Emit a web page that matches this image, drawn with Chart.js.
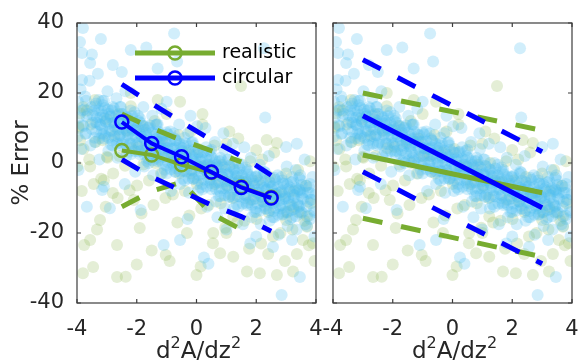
<!DOCTYPE html>
<html>
<head>
<meta charset="utf-8">
<script src="https://cdn.jsdelivr.net/npm/chart.js@4.4.1/dist/chart.umd.min.js"></script>
<style>
  body { margin: 0; background: #fff; }
  #wrap { position: relative; width: 579px; height: 362px; }
  canvas { position: absolute; top: 0; }
  #left { left: 0; }
  #right { left: 318px; }
</style>
</head>
<body>
<div id="wrap">
  <canvas id="left" width="330" height="362"></canvas>
  <canvas id="right" width="261" height="362"></canvas>
</div>
<script>
// axes
const xTicks = [-4, -2, 0, 2, 4];
const yTicks = [-40, -20, 0, 20, 40];
const yTitle = '% Error';
const xTitleParts = [['d', 0], ['2', 1], ['A/dz', 0], ['2', 1]];
const legendLabels = ['realistic', 'circular'];

// left panel: binned means +/- spread
const binCenters = [-2.5, -1.5, -0.5, 0.5, 1.5, 2.5];
const circularMean = [11.7, 5.6, 1.8, -2.6, -7, -10];
const circularUpper = [22.5, 17, 11.7, 6.6, 2, -3.5];
const circularLower = [1, -4, -8, -12, -15.3, -19.5];
const realisticMean = [3.6, 2.3, -0.5, -2.7, -6.8, -9.8];
const realisticBins = [-2.5, -1.5, -0.5, 0.5, 1.5];
const realisticUpper = [14, 10, 6.5, 3.5, 0.3];
const realisticLower = [-12.5, -8, -5.5, -14.5, -19];

// right panel: linear fits +/- bands
const fitX = [-3, 3];
const circularFit = [13.5, -12.8];
const circularFitUpper = [29.5, 3.2];
const circularFitLower = [-2.5, -28.8];
const realisticFit = [2.3, -8.5];
const realisticFitUpper = [20, 9.3];
const realisticFitLower = [-15.8, -26.8];

// scatter clouds (same samples in both panels)
const blueCloud = [
  [-3.85,4],[-3.98,7.5],[-3.78,10.5],[-3.94,13],[-3.82,15],[-3.97,17.5],[-3.88,21],
  [-3.55,5],[-3.7,8.5],[-3.48,11.5],[-3.64,14],[-3.52,16],[-3.73,19],[-3.58,23.5],
  [-3.25,1],[-3.4,6],[-3.18,8.5],[-3.34,11.5],[-3.22,13],[-3.43,15],[-3.28,18],
  [-2.95,3.5],[-3.1,7],[-2.88,9.5],[-3.04,12],[-2.92,14],[-3.13,16.5],[-2.98,20.5],
  [-2.65,1.5],[-2.8,5],[-2.58,8],[-2.74,10.5],[-2.62,12.5],[-2.83,15],[-2.68,18.5],
  [-2.35,2],[-2.5,5.5],[-2.28,8.5],[-2.44,11],[-2.32,13],[-2.53,16],[-2.38,20.5],
  [-2.05,-2.5],[-2.2,2.5],[-1.98,5],[-2.14,8],[-2.02,9.5],[-2.23,11.5],[-2.08,14.5],
  [-1.75,-1],[-1.9,2.5],[-1.68,5],[-1.84,7.5],[-1.72,9.5],[-1.93,12],[-1.78,16],
  [-1.45,-3.5],[-1.6,0],[-1.38,3],[-1.54,5.5],[-1.42,7.5],[-1.63,10],[-1.48,13.5],
  [-1.15,-3],[-1.3,0.5],[-1.08,3.5],[-1.24,6],[-1.12,8],[-1.33,11],[-1.18,15.5],
  [-0.85,-8],[-1.0,-3],[-0.78,-0.5],[-0.94,2.5],[-0.82,4],[-1.03,6],[-0.88,9],
  [-0.55,-6],[-0.7,-2.5],[-0.48,0],[-0.64,2.5],[-0.52,4.5],[-0.73,7],[-0.58,11],
  [-0.25,-8.5],[-0.4,-5],[-0.18,-2],[-0.34,0.5],[-0.22,2.5],[-0.43,5],[-0.28,8.5],
  [0.05,-8],[-0.1,-4.5],[0.12,-1.5],[-0.04,1],[0.08,3],[-0.13,6],[0.02,10.5],
  [0.35,-12.5],[0.2,-7.5],[0.42,-5],[0.26,-2],[0.38,-0.5],[0.17,1.5],[0.32,4.5],
  [0.65,-11],[0.5,-7.5],[0.72,-5],[0.56,-2.5],[0.68,-0.5],[0.47,2],[0.62,6],
  [0.95,-13],[0.8,-9.5],[1.02,-6.5],[0.86,-4],[0.98,-2],[0.77,0.5],[0.92,4],
  [1.25,-13],[1.1,-9.5],[1.32,-6.5],[1.16,-4],[1.28,-2],[1.07,1],[1.22,5.5],
  [1.55,-17.5],[1.4,-12.5],[1.62,-10],[1.46,-7],[1.58,-5.5],[1.37,-3.5],[1.52,-0.5],
  [1.85,-15.5],[1.7,-12],[1.92,-9.5],[1.76,-7],[1.88,-5],[1.67,-2.5],[1.82,1.5],
  [2.15,-17.5],[2.0,-14],[2.22,-11],[2.06,-8.5],[2.18,-6.5],[1.97,-4],[2.12,-0.5],
  [2.45,-16.5],[2.3,-13],[2.52,-10],[2.36,-7.5],[2.48,-5.5],[2.27,-2.5],[2.42,2],
  [2.75,-20.5],[2.6,-15.5],[2.82,-13],[2.66,-10],[2.78,-8.5],[2.57,-6.5],[2.72,-3.5],
  [3.05,-18],[2.9,-14.5],[3.12,-12],[2.96,-9.5],[3.08,-7.5],[2.87,-5],[3.02,-1],
  [3.35,-19],[3.2,-15.5],[3.42,-12.5],[3.26,-10],[3.38,-8],[3.17,-5.5],[3.32,-2],
  [3.65,-17.5],[3.5,-14],[3.72,-11],[3.56,-8.5],[3.68,-6.5],[3.47,-3.5],[3.62,1],
  [3.95,-21],[3.8,-16],[3.92,-13.5],[3.86,-10.5],[3.98,-9],[3.77,-7],[3.88,-4],
  [-3.72,8.3],[-3.81,10.8],[-3.68,13.3],[-3.77,15.3],[-3.7,17.8],
  [-3.42,7.2],[-3.51,9.7],[-3.38,11.7],[-3.47,13.7],[-3.4,16.2],
  [-3.12,8.3],[-3.21,10.8],[-3.08,12.8],[-3.17,14.8],[-3.1,17.8],
  [-2.82,6.5],[-2.91,9],[-2.78,11.5],[-2.87,13.5],[-2.8,16],
  [-2.52,5],[-2.61,7.5],[-2.48,9.5],[-2.57,11.5],[-2.5,14],
  [-2.22,5.5],[-2.31,8],[-2.18,10],[-2.27,12],[-2.2,15],
  [-1.92,3.3],[-2.01,5.8],[-1.88,8.3],[-1.97,10.3],[-1.9,12.8],
  [-1.62,1.2],[-1.71,3.7],[-1.58,5.7],[-1.67,7.7],[-1.6,10.2],
  [-1.32,1.5],[-1.41,4],[-1.28,6],[-1.37,8],[-1.3,11],
  [-1.02,-0.7],[-1.11,1.8],[-0.98,4.3],[-1.07,6.3],[-1,8.8],
  [-0.72,-2.5],[-0.81,0],[-0.68,2],[-0.77,4],[-0.7,6.5],
  [-0.42,-2.3],[-0.51,0.2],[-0.38,2.2],[-0.47,4.2],[-0.4,7.2],
  [-0.12,-4.5],[-0.21,-2],[-0.08,0.5],[-0.17,2.5],[-0.1,5],
  [0.18,-6],[0.09,-3.5],[0.22,-1.5],[0.13,0.5],[0.2,3],
  [0.48,-5.7],[0.39,-3.2],[0.52,-1.2],[0.43,0.8],[0.5,3.8],
  [0.78,-8],[0.69,-5.5],[0.82,-3],[0.73,-1],[0.8,1.5],
  [1.08,-9.8],[0.99,-7.3],[1.12,-5.3],[1.03,-3.3],[1.1,-0.8],
  [1.38,-9.5],[1.29,-7],[1.42,-5],[1.33,-3],[1.4,0],
  [1.68,-11.5],[1.59,-9],[1.72,-6.5],[1.63,-4.5],[1.7,-2],
  [1.98,-13],[1.89,-10.5],[2.02,-8.5],[1.93,-6.5],[2,-4],
  [2.28,-12.3],[2.19,-9.8],[2.32,-7.8],[2.23,-5.8],[2.3,-2.8],
  [2.58,-13.7],[2.49,-11.2],[2.62,-8.7],[2.53,-6.7],[2.6,-4.2],
  [2.88,-14.8],[2.79,-12.3],[2.92,-10.3],[2.83,-8.3],[2.9,-5.8],
  [3.18,-13.5],[3.09,-11],[3.22,-9],[3.13,-7],[3.2,-4],
  [3.48,-14.5],[3.39,-12],[3.52,-9.5],[3.43,-7.5],[3.5,-5],
  [3.78,-15],[3.69,-12.5],[3.82,-10.5],[3.73,-8.5],[3.8,-6],
  [-3.26,7],[-3.35,9],[-3.23,11],[-3.33,13],[-3.28,15],[-3.36,17],
  [-3.06,7.7],[-3.15,9.7],[-3.03,11.7],[-3.13,13.7],[-3.08,15.7],[-3.16,17.7],
  [-2.86,5.2],[-2.95,7.2],[-2.83,9.2],[-2.93,11.2],[-2.88,13.2],[-2.96,15.2],
  [-2.66,5.6],[-2.75,7.6],[-2.63,9.6],[-2.73,11.6],[-2.68,13.6],[-2.76,15.6],
  [-2.46,6],[-2.55,8],[-2.43,10],[-2.53,12],[-2.48,14],[-2.56,16],
  [-2.26,3.2],[-2.35,5.2],[-2.23,7.2],[-2.33,9.2],[-2.28,11.2],[-2.36,13.2],
  [-2.06,3.4],[-2.15,5.4],[-2.03,7.4],[-2.13,9.4],[-2.08,11.4],[-2.16,13.4],
  [-1.86,3.5],[-1.95,5.5],[-1.83,7.5],[-1.93,9.5],[-1.88,11.5],[-1.96,13.5],
  [-1.66,0.6],[-1.75,2.6],[-1.63,4.6],[-1.73,6.6],[-1.68,8.6],[-1.76,10.6],
  [-1.46,0.7],[-1.55,2.7],[-1.43,4.7],[-1.53,6.7],[-1.48,8.7],[-1.56,10.7],
  [-1.26,0.9],[-1.35,2.9],[-1.23,4.9],[-1.33,6.9],[-1.28,8.9],[-1.36,10.9],
  [-1.06,-1.9],[-1.15,0.1],[-1.03,2.1],[-1.13,4.1],[-1.08,6.1],[-1.16,8.1],
  [-0.86,-1.8],[-0.95,0.2],[-0.83,2.2],[-0.93,4.2],[-0.88,6.2],[-0.96,8.2],
  [-0.66,-1.6],[-0.75,0.4],[-0.63,2.4],[-0.73,4.4],[-0.68,6.4],[-0.76,8.4],
  [-0.46,-4.5],[-0.55,-2.5],[-0.43,-0.5],[-0.53,1.5],[-0.48,3.5],[-0.56,5.5],
  [-0.26,-4.4],[-0.35,-2.4],[-0.23,-0.4],[-0.33,1.6],[-0.28,3.6],[-0.36,5.6],
  [-0.06,-4.2],[-0.15,-2.2],[-0.03,-0.2],[-0.13,1.8],[-0.08,3.8],[-0.16,5.8],
  [0.14,-7],[0.05,-5],[0.17,-3],[0.07,-1],[0.12,1],[0.04,3],
  [0.34,-6.8],[0.25,-4.8],[0.37,-2.8],[0.27,-0.8],[0.32,1.2],[0.24,3.2],
  [0.54,-6.6],[0.45,-4.6],[0.57,-2.6],[0.47,-0.6],[0.52,1.4],[0.44,3.4],
  [0.74,-9.4],[0.65,-7.4],[0.77,-5.4],[0.67,-3.4],[0.72,-1.4],[0.64,0.6],
  [0.94,-9.2],[0.85,-7.2],[0.97,-5.2],[0.87,-3.2],[0.92,-1.2],[0.84,0.8],
  [1.14,-9],[1.05,-7],[1.17,-5],[1.07,-3],[1.12,-1],[1.04,1],
  [1.34,-11.8],[1.25,-9.8],[1.37,-7.8],[1.27,-5.8],[1.32,-3.8],[1.24,-1.8],
  [1.54,-11.6],[1.45,-9.6],[1.57,-7.6],[1.47,-5.6],[1.52,-3.6],[1.44,-1.6],
  [1.74,-11.3],[1.65,-9.3],[1.77,-7.3],[1.67,-5.3],[1.72,-3.3],[1.64,-1.3],
  [1.94,-14],[1.85,-12],[1.97,-10],[1.87,-8],[1.92,-6],[1.84,-4],
  [2.14,-13.6],[2.05,-11.6],[2.17,-9.6],[2.07,-7.6],[2.12,-5.6],[2.04,-3.6],
  [2.34,-13.1],[2.25,-11.1],[2.37,-9.1],[2.27,-7.1],[2.32,-5.1],[2.24,-3.1],
  [2.54,-15.5],[2.45,-13.5],[2.57,-11.5],[2.47,-9.5],[2.52,-7.5],[2.44,-5.5],
  [2.74,-14.8],[2.65,-12.8],[2.77,-10.8],[2.67,-8.8],[2.72,-6.8],[2.64,-4.8],
  [2.94,-14],[2.85,-12],[2.97,-10],[2.87,-8],[2.92,-6],[2.84,-4],
  [3.14,-16.1],[3.05,-14.1],[3.17,-12.1],[3.07,-10.1],[3.12,-8.1],[3.04,-6.1],
  [3.34,-15.2],[3.25,-13.2],[3.37,-11.2],[3.27,-9.2],[3.32,-7.2],[3.24,-5.2],
  [3.54,-14.2],[3.45,-12.2],[3.57,-10.2],[3.47,-8.2],[3.52,-6.2],[3.44,-4.2],
  [-3.8,38.6],[-3.9,34.6],[-3.83,31.4],[-3.2,35.4],[-3.5,31],[-3.56,28.6],[-2.8,28],
  [-2.2,32.3],[-1.68,33],[-0.75,37],[-0.65,29],[-1.3,27],[-2.5,26],[-3.83,23.7],
  [-3.3,25.5],[2.26,32.8],[2.3,13],[3.0,4.6],[3.36,5.5],[1.6,4.5],[0.9,8.5],[0.3,10],
  [-0.2,13.5],[-1.0,17.5],[3.46,-7.7],[3.8,-8.6],[2.85,-37.7],[3.46,-32.6],[-1.1,-23.4],
  [0.25,-27],[-0.55,-22],[0.4,-28.8],[-2.9,-12.9],[-3.67,-12.5],[-1.87,-13.4],[-3.16,-7.7],
  [-3.1,-6.8],[2.56,-24],[1.8,-23],[3.2,-22],[-0.3,-16],[1.0,-19],[2.0,-21],[-3.95,-2],
  [-2.4,-6],[0.7,-15.5],[3.7,-18],[3.95,-14]
];

const greenCloud = [
  [-3.84,-8],[-3.99,-1],[-3.78,4],[-3.94,10],[-3.8,16],
  [-3.44,-6],[-3.59,1],[-3.38,6],[-3.54,11],[-3.4,18],
  [-3.04,-12.5],[-3.19,-4.5],[-2.98,1.5],[-3.14,6.5],[-3.0,12.5],
  [-2.64,-10],[-2.79,-3],[-2.58,2],[-2.74,8],[-2.6,14],
  [-2.24,-7.8],[-2.39,-0.8],[-2.18,4.2],[-2.34,9.2],[-2.2,16.2],
  [-1.84,-14.4],[-1.99,-6.4],[-1.78,-0.4],[-1.94,4.6],[-1.8,10.6],
  [-1.44,-12],[-1.59,-5],[-1.38,0],[-1.54,6],[-1.4,12],
  [-1.04,-10],[-1.19,-3],[-0.98,2],[-1.14,7],[-1.0,14],
  [-0.64,-17],[-0.79,-9],[-0.58,-3],[-0.74,2],[-0.6,8],
  [-0.24,-15],[-0.39,-8],[-0.18,-3],[-0.34,3],[-0.2,9],
  [0.16,-13],[0.01,-6],[0.22,-1],[0.06,4],[0.2,11],
  [0.56,-20],[0.41,-12],[0.62,-6],[0.46,-1],[0.6,5],
  [0.96,-18.5],[0.81,-11.5],[1.02,-6.5],[0.86,-0.5],[1.0,5.5],
  [1.36,-17],[1.21,-10],[1.42,-5],[1.26,0],[1.4,7],
  [1.76,-24.5],[1.61,-16.5],[1.82,-10.5],[1.66,-5.5],[1.8,0.5],
  [2.16,-23],[2.01,-16],[2.22,-11],[2.06,-5],[2.2,1],
  [2.56,-21],[2.41,-14],[2.62,-9],[2.46,-4],[2.6,3],
  [2.96,-28],[2.81,-20],[3.02,-14],[2.86,-9],[3.0,-3],
  [3.36,-26],[3.21,-19],[3.42,-14],[3.26,-8],[3.4,-2],
  [3.76,-23.5],[3.61,-16.5],[3.82,-11.5],[3.66,-6.5],[3.8,0.5],
  [-3.8,-31.5],[-3.46,-29.7],[-2.66,-32.6],[-2.66,-23.4],[-3.33,-19],[-3.23,-16.3],
  [-3.56,-22],[-1.9,-18.6],[-0.32,-20],[0.79,-25.8],[1.23,-26.8],[0.55,-22.9],
  [1.69,-31],[2.12,-31.5],[2.69,-32],[3.23,-31],[3.56,-22],[3.9,-22.9],[3.7,-18.2],
  [2.35,6.6],[2.69,5.7],[2.0,3.7],[1.49,22],[-0.55,17.5],[-3.67,15],[-3.9,14.2],
  [-3.95,10.4],[-3.9,6.5],[-3.56,-1],[-3.0,1.8],[-3.1,-4.9],[-2.8,-8.6],[-2.1,-10.6],
  [3.23,-12.5],[3.7,-15.3],[3.0,-16.3],[1.23,-15.3],[1.0,-20],[-1.3,18],[-2.2,20],
  [0.2,14],[1.1,9],[-1.5,-25],[-0.9,-28],[2.4,-26],[3.95,-28],[0.0,-32],[-2.0,-29],
  [-3.76,-23.4],[-1.03,-26.3],[0.14,-29.6],[-2.37,-32.5]
];

const GREEN = '#77ac30';
const BLUE = '#0000ff';
const FONT = 'DejaVu Sans';

const pts = (xs, ys) => xs.map((x, i) => ({ x, y: ys[i] }));
const cloud = arr => arr.map(p => ({ x: p[0], y: p[1] }));

function cloudSets() {
  return [
    { data: cloud(blueCloud), pointRadius: 6, pointBorderWidth: 0,
      pointBackgroundColor: 'rgba(77,190,238,0.26)', clip: 0, order: 8 },
    { data: cloud(greenCloud), pointRadius: 6, pointBorderWidth: 0,
      pointBackgroundColor: 'rgba(119,172,48,0.2)', clip: 0, order: 9 }
  ];
}

function solid(data, color, markers, order) {
  return {
    data, showLine: true, borderColor: color, borderWidth: markers ? 4 : 5,
    pointRadius: markers ? 6.5 : 0, pointBorderWidth: 2.5,
    pointBorderColor: color, pointBackgroundColor: 'rgba(0,0,0,0)', order
  };
}

function dashed(data, color, order) {
  return {
    data, showLine: true, borderColor: color, borderWidth: 5,
    borderDash: [20, 19], pointRadius: 0, order
  };
}

// box with inward ticks, like matlab axes
const framePlugin = {
  id: 'frame',
  afterDatasetsDraw(chart) {
    const { ctx, chartArea: a, scales: { x, y } } = chart;
    ctx.save();
    ctx.strokeStyle = '#3c3c3c';
    ctx.lineWidth = 1.2;
    ctx.strokeRect(a.left, a.top, a.right - a.left, a.bottom - a.top);
    ctx.beginPath();
    xTicks.forEach(v => {
      const p = x.getPixelForValue(v);
      ctx.moveTo(p, a.bottom); ctx.lineTo(p, a.bottom - 4);
      ctx.moveTo(p, a.top); ctx.lineTo(p, a.top + 4);
    });
    yTicks.forEach(v => {
      const p = y.getPixelForValue(v);
      ctx.moveTo(a.left, p); ctx.lineTo(a.left + 4, p);
      ctx.moveTo(a.right, p); ctx.lineTo(a.right - 4, p);
    });
    ctx.stroke();
    ctx.restore();
  }
};

// x title with superscripts
const xTitlePlugin = {
  id: 'xTitle',
  afterDraw(chart) {
    const { ctx, chartArea: a } = chart;
    const big = '23px "' + FONT + '"', small = '16px "' + FONT + '"';
    ctx.save();
    let w = 0;
    xTitleParts.forEach(([t, s]) => { ctx.font = s ? small : big; w += ctx.measureText(t).width; });
    let x = (a.left + a.right) / 2 - w / 2 + 2;
    const base = 358;
    ctx.fillStyle = '#262626';
    ctx.textBaseline = 'alphabetic';
    xTitleParts.forEach(([t, s]) => {
      ctx.font = s ? small : big;
      ctx.fillText(t, x, s ? base - 10 : base);
      x += ctx.measureText(t).width;
    });
    ctx.restore();
  }
};

const legendPlugin = {
  id: 'lineLegend',
  afterDraw(chart) {
    const { ctx, chartArea: a } = chart;
    const colors = [GREEN, BLUE];
    ctx.save();
    legendLabels.forEach((label, i) => {
      const y = a.top + 30 + i * 25;
      const x0 = a.left + 58;
      ctx.strokeStyle = colors[i];
      ctx.lineWidth = 5;
      ctx.beginPath(); ctx.moveTo(x0, y); ctx.lineTo(x0 + 80, y); ctx.stroke();
      ctx.lineWidth = 2.5;
      ctx.beginPath(); ctx.arc(x0 + 40, y, 6.5, 0, Math.PI * 2); ctx.stroke();
      ctx.fillStyle = '#000';
      ctx.font = '19px "' + FONT + '"';
      ctx.textBaseline = 'middle';
      ctx.fillText(label, x0 + 87, y);
    });
    ctx.restore();
  }
};

function makeChart(id, lineSets, yWidth, padRight, showY, extraPlugins) {
  return new Chart(document.getElementById(id), {
    type: 'scatter',
    data: { datasets: lineSets.concat(cloudSets()) },
    options: {
      responsive: false,
      animation: false,
      devicePixelRatio: 1,
      events: [],
      layout: { padding: { left: 0, right: padRight, top: 23, bottom: 0 } },
      plugins: { legend: { display: false }, tooltip: { enabled: false } },
      scales: {
        x: {
          type: 'linear', min: -4, max: 4,
          grid: { display: false }, border: { display: false },
          ticks: { stepSize: 2, padding: 6, color: '#262626', maxRotation: 0, autoSkip: false,
                   font: { family: FONT, size: 21 } },
          afterFit(s) { s.height = 59; s.paddingLeft = 0; s.paddingRight = 0; }
        },
        y: {
          type: 'linear', min: -40, max: 40,
          grid: { display: false }, border: { display: false },
          ticks: { display: showY, stepSize: 20, padding: 5, color: '#262626',
                   font: { family: FONT, size: 21 } },
          title: { display: showY, text: yTitle, color: '#262626',
                   font: { family: FONT, size: 23 }, padding: { top: 8, bottom: 0 } },
          afterFit(s) { s.width = yWidth; s.paddingTop = 0; s.paddingBottom = 0; }
        }
      }
    },
    plugins: [framePlugin, xTitlePlugin].concat(extraPlugins)
  });
}

makeChart('left', [
  solid(pts(binCenters, circularMean), BLUE, true, 0),
  solid(pts(binCenters, realisticMean), GREEN, true, 1),
  dashed(pts(binCenters, circularUpper), BLUE, 2),
  dashed(pts(binCenters, circularLower), BLUE, 3),
  dashed(pts(realisticBins, realisticUpper), GREEN, 4),
  dashed(pts(realisticBins, realisticLower), GREEN, 5)
], 77, 14, true, [legendPlugin]);

makeChart('right', [
  solid(pts(fitX, circularFit), BLUE, false, 0),
  solid(pts(fitX, realisticFit), GREEN, false, 1),
  dashed(pts(fitX, circularFitUpper), BLUE, 2),
  dashed(pts(fitX, circularFitLower), BLUE, 3),
  dashed(pts(fitX, realisticFitUpper), GREEN, 4),
  dashed(pts(fitX, realisticFitLower), GREEN, 5)
], 15, 7, false, []);
</script>
</body>
</html>
